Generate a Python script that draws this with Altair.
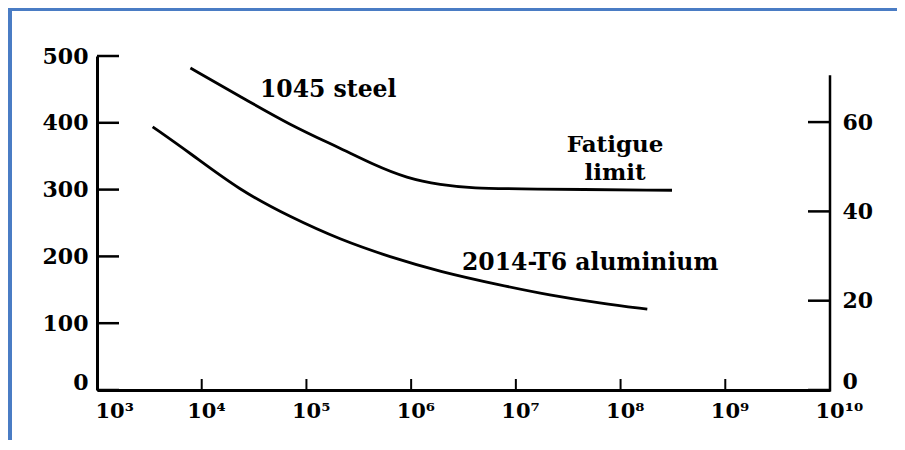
import altair as alt
import pandas as pd

# ---- data ----
steel_N = [7.8e3, 2.3e4, 6.9e4, 2.1e5, 4.4e5, 9.1e5, 1.9e6, 3.9e6, 1.1e7, 3.1e8]
steel_mpa = [482, 440, 397, 362, 337, 317, 307, 302, 301, 299]

alu_N = [3.4e3, 7.7e3, 2.3e4, 7.0e4, 2.1e5, 6.3e5, 1.9e6, 7.1e6, 2.1e7, 6.4e7, 1.8e8]
alu_mpa = [394, 355, 299, 259, 225, 199, 177, 157, 142, 130, 121]

x_ticks = [1e3, 1e4, 1e5, 1e6, 1e7, 1e8, 1e9, 1e10]
x_exponents = ["³", "⁴", "⁵", "⁶", "⁷", "⁸", "⁹", "¹⁰"]
mpa_ticks = [0, 100, 200, 300, 400, 500]
ksi_ticks = [0, 20, 40, 60]
ksi_axis_top = [70.5]

left_labels = ["1045 steel", "2014-T6 aluminium"]
left_labels_N = [3.6e4, 3.06e6]
left_labels_mpa = [439, 180]

center_labels = ["Fatigue", "limit"]
center_labels_N = [8.85e7, 8.85e7]
center_labels_mpa = [357, 315]

W, H = 733, 334
FONT = "DejaVu Serif"

xs = alt.Scale(type="log", domain=[1e3, 1e10], nice=False)
yL = alt.Scale(domain=[0, 500], nice=False)
yR = alt.Scale(domain=[0, 74.8], nice=False)

curves = pd.DataFrame(
    {"material": ["steel"] * len(steel_N) + ["alu"] * len(alu_N),
     "N": steel_N + alu_N,
     "mpa": steel_mpa + alu_mpa}
)

exp_map = "{" + ",".join(f'"{int(round(v))}":"{e}"' for v, e in zip(x_ticks, x_exponents)) + "}"
label_expr = f'"10" + {exp_map}[format(datum.value, "d")]'

x_axis = alt.Axis(
    values=x_ticks, labelExpr=label_expr, ticks=False, grid=False, title=None,
    domainColor="black", domainWidth=3, labelFont=FONT, labelFontWeight="bold",
    labelFontSize=21, labelColor="black", labelAlign="left", labelPadding=10,
    labelOffset={"condition": {"test": "datum.value <= 1000", "value": -2}, "value": -15},
    labelOverlap=False, labelFlush=False,
)

left_axis = alt.Axis(
    orient="left", values=mpa_ticks, ticks=False, grid=False, title=None,
    domainColor="black", domainWidth=3, labelFont=FONT, labelFontWeight="bold",
    labelFontSize=22, labelColor="black", labelPadding=9,
    labelOffset={"condition": {"test": "datum.value == 0", "value": -8}, "value": 0},
    labelOverlap=False, labelFlush=False,
)

right_axis = alt.Axis(
    orient="right", values=ksi_ticks, ticks=False, grid=False, title=None,
    domain=False, labelFont=FONT, labelFontWeight="bold",
    labelFontSize=22, labelColor="black", labelPadding=12,
    labelOffset={"condition": {"test": "datum.value == 0", "value": -9}, "value": 0},
    labelOverlap=False, labelFlush=False,
)

left_tick_layer = alt.Chart(pd.DataFrame({"mpa": mpa_ticks})).mark_rule(
    color="black", strokeWidth=2.5
).encode(
    y=alt.Y("mpa:Q", scale=yL, axis=left_axis),
    x=alt.value(0), x2=alt.value(22),
)

curve_layer = alt.Chart(curves).mark_line(
    color="black", strokeWidth=2.8, interpolate="basis"
).encode(
    x=alt.X("N:Q", scale=xs, axis=x_axis),
    y=alt.Y("mpa:Q", scale=yL, axis=left_axis),
    detail="material:N",
)

x_tick_layer = alt.Chart(pd.DataFrame({"N": x_ticks[1:-1]})).mark_rule(
    color="black", strokeWidth=2
).encode(
    x=alt.X("N:Q", scale=xs, axis=x_axis),
    y=alt.value(H - 11), y2=alt.value(H),
)

left_text = alt.Chart(pd.DataFrame(
    {"t": left_labels, "N": left_labels_N, "mpa": left_labels_mpa})).mark_text(
    font=FONT, fontWeight="bold", fontSize=23.5, align="left", baseline="alphabetic", color="black"
).encode(
    x=alt.X("N:Q", scale=xs, axis=x_axis),
    y=alt.Y("mpa:Q", scale=yL, axis=left_axis),
    text="t:N",
)

center_text = alt.Chart(pd.DataFrame(
    {"t": center_labels, "N": center_labels_N, "mpa": center_labels_mpa})).mark_text(
    font=FONT, fontWeight="bold", fontSize=23, align="center", baseline="alphabetic", color="black"
).encode(
    x=alt.X("N:Q", scale=xs, axis=x_axis),
    y=alt.Y("mpa:Q", scale=yL, axis=left_axis),
    text="t:N",
)

left_group = alt.layer(left_tick_layer, curve_layer, x_tick_layer, left_text, center_text)

right_tick_layer = alt.Chart(pd.DataFrame({"ksi": ksi_ticks})).mark_rule(
    color="black", strokeWidth=2.5
).encode(
    y=alt.Y("ksi:Q", scale=yR, axis=right_axis),
    x=alt.value(W - 22), x2=alt.value(W),
)

right_domain = alt.Chart(pd.DataFrame({"ksi": ksi_axis_top})).mark_rule(
    color="black", strokeWidth=2.5
).encode(
    y=alt.Y("ksi:Q", scale=yR, axis=right_axis),
    y2=alt.value(H + 1.5),
    x=alt.value(W),
)

right_group = alt.layer(right_tick_layer, right_domain)

frame = pd.DataFrame({"k": [0]})
border_left = alt.Chart(frame).mark_rule(color="#4a7cc4", strokeWidth=4).encode(
    x=alt.value(-87), y=alt.value(-48), y2=alt.value(H + 60)
)
border_top = alt.Chart(frame).mark_rule(color="#4a7cc4", strokeWidth=4).encode(
    x=alt.value(-89), x2=alt.value(W + 80), y=alt.value(-47)
)

chart = alt.layer(left_group, right_group, border_left, border_top).resolve_scale(
    y="independent"
).properties(
    width=W, height=H,
    padding={"left": 89, "top": 48, "right": 67, "bottom": 50},
    autosize=alt.AutoSizeParams(type="none"),
    background="white",
).configure_view(stroke=None)

chart.save("out.html", embed_options={"renderer": "svg", "actions": False})
